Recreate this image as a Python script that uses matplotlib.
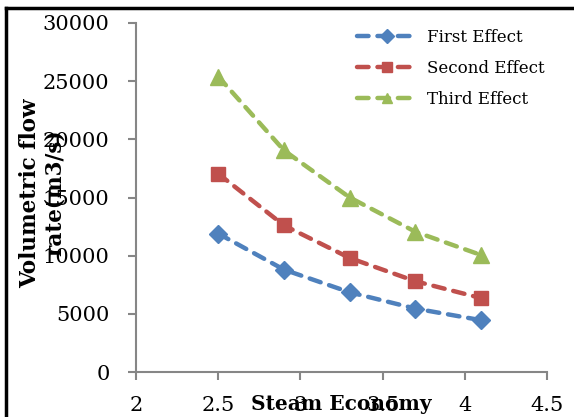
import matplotlib
matplotlib.use("Agg")
import matplotlib.pyplot as plt
from matplotlib.lines import Line2D

steam_economy = [2.5, 2.9, 3.3, 3.7, 4.1]
first_effect = [11900, 8800, 6850, 5450, 4450]
second_effect = [17050, 12600, 9800, 7800, 6350]
third_effect = [25400, 19050, 15000, 12050, 10050]
series_names = ["First Effect", "Second Effect", "Third Effect"]
x_ticks = [2, 2.5, 3, 3.5, 4, 4.5]
x_tick_labels = ["2", "2.5", "3", "3.5", "4", "4.5"]
y_ticks = [0, 5000, 10000, 15000, 20000, 25000, 30000]

plt.rcParams['font.family'] = ['DejaVu Serif']

fig = plt.figure(figsize=(5.74, 4.17), dpi=100)
ax = fig.add_axes([136/574, 45/417, 411/574, 349/417])

styles = [
    dict(color="#4F81BD", marker="D", markersize=9),
    dict(color="#C0504D", marker="s", markersize=10.5),
    dict(color="#9BBB59", marker="^", markersize=11),
]
for name, vals, st in zip(series_names, [first_effect, second_effect, third_effect], styles):
    ax.plot(steam_economy, vals, linestyle=(0, (2.6, 2.0)), linewidth=3.2,
            dash_capstyle="round", label=name, **st)

ax.set_xlim(2, 4.5)
ax.set_ylim(0, 30000)
ax.set_xticks(x_ticks)
ax.set_xticklabels(x_tick_labels)
ax.set_yticks(y_ticks)
for s in ["top", "right"]:
    ax.spines[s].set_visible(False)
for s in ["left", "bottom"]:
    ax.spines[s].set_color("#868686")
    ax.spines[s].set_linewidth(1.5)
ax.tick_params(axis="both", direction="out", length=6, width=1.5, color="#868686",
               labelsize=15, labelcolor="black")
ax.tick_params(axis="x", pad=11)
ax.tick_params(axis="y", pad=13)

fig.text(30/574, 1 - 193/417, "Volumetric flow", rotation=90, ha="center", va="center",
         fontsize=15.5, fontweight="bold")
fig.text(55/574, 1 - 193/417, "rate(m3/s)", rotation=90, ha="center", va="center",
         fontsize=15.5, fontweight="bold")
fig.text(341/574, 1 - 404/417, "Steam Economy", ha="center", va="center",
         fontsize=14.5, fontweight="bold")

leg = ax.legend(loc="upper left", bbox_to_anchor=(342/574, 1 - 14/417),
                bbox_transform=fig.transFigure, frameon=False, fontsize=12,
                handlelength=3.6, handletextpad=0.6, labelspacing=0.85)
for h in leg.legend_handles:
    h.set_markersize(7)

fig.add_artist(Line2D([6/574, 6/574], [0, 1 - 8/417], transform=fig.transFigure,
                      color="black", linewidth=2.5))
fig.add_artist(Line2D([6/574, 1], [1 - 8/417, 1 - 8/417], transform=fig.transFigure,
                      color="black", linewidth=2.5))

fig.savefig("out.png", dpi=100)
